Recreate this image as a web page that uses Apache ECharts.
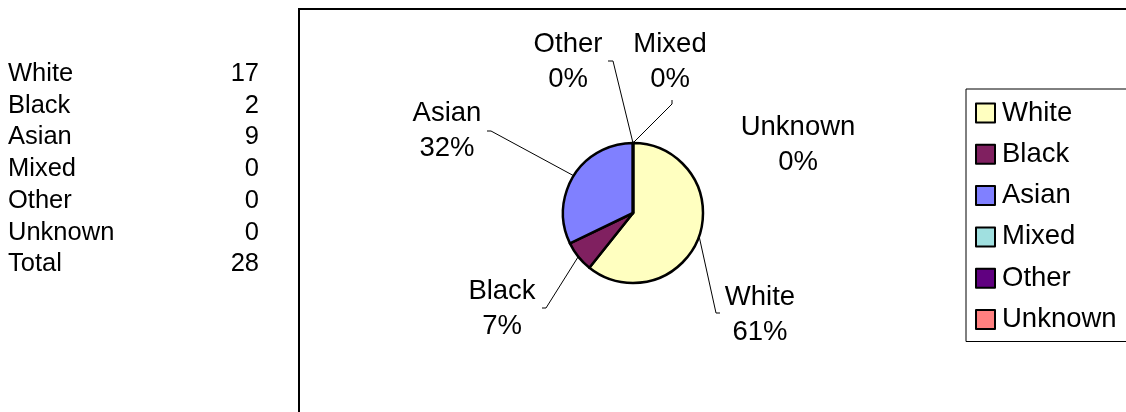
<!DOCTYPE html>
<html>
<head>
<meta charset="utf-8">
<script src="https://cdn.jsdelivr.net/npm/echarts@6/dist/echarts.min.js"></script>
<style>
html,body{margin:0;padding:0;background:#fff;}
#chart{width:1126px;height:412px;}
</style>
</head>
<body>
<div id="chart"></div>
<script>
// ---- data ----
var categories = ['White', 'Black', 'Asian', 'Mixed', 'Other', 'Unknown'];
var counts = [17, 2, 9, 0, 0, 0];
var totalLabel = 'Total';
var colors = ['#FFFFC0', '#802060', '#8080FF', '#A0E0E0', '#600080', '#FF8080'];

// ---- layout / style (label placement, not data) ----
var FONT = 'Liberation Sans, Arial, sans-serif';
// [labelCenterX, labelCenterY, bendX, bendY, endX, endY]
var labelPlace = {
  White:   [760, 315, 716, 313, 720, 313],
  Black:   [502, 309, 546, 308, 542, 308],
  Asian:   [447, 131, 491, 131, 487, 131],
  Mixed:   [670, 62, 672, 104, 672, 100],
  Other:   [568, 62, 613, 61, 608, 61],
  Unknown: [798, 145, null, null, null, null]
};

var total = counts.reduce(function (a, b) { return a + b; }, 0);

var chart = echarts.init(document.getElementById('chart'), null, {renderer: 'canvas'});

// left table
var tableGraphics = [];
var rowNames = categories.concat([totalLabel]);
var rowVals = counts.concat([total]);
rowNames.forEach(function (n, i) {
  var y = 74 + i * 31.7;
  tableGraphics.push({
    type: 'text', left: 8, top: y - 13, silent: true,
    style: {text: n, font: '25.5px ' + FONT, fill: '#000'}
  });
  tableGraphics.push({
    type: 'text', right: 1126 - 259, top: y - 13, silent: true,
    style: {text: String(rowVals[i]), font: '25.5px ' + FONT, fill: '#000', textAlign: 'right'}
  });
});

// chart area frame
tableGraphics.push({
  type: 'rect', silent: true, z: -1,
  shape: {x: 299, y: 9, width: 900, height: 500},
  style: {fill: '#fff', stroke: '#000', lineWidth: 2}
});

var option = {
  animation: false,
  backgroundColor: '#fff',
  textStyle: {fontFamily: FONT},
  graphic: tableGraphics,
  legend: {
    orient: 'vertical',
    left: 966, top: 89,
    padding: [10, 40, 8, 9],
    itemGap: 13.3,
    itemWidth: 19, itemHeight: 19,
    icon: 'rect',
    borderColor: '#000', borderWidth: 1,
    backgroundColor: '#fff',
    itemStyle: {borderColor: '#000', borderWidth: 2},
    textStyle: {fontSize: 27.5, color: '#000', fontFamily: FONT, padding: [0, 0, 0, 2]},
    data: categories
  },
  series: [{
    type: 'pie',
    center: [633, 213],
    radius: 70,
    startAngle: 90,
    clockwise: true,
    percentPrecision: 0,
    avoidLabelOverlap: false,
    itemStyle: {borderColor: '#000', borderWidth: 2.5},
    emphasis: {disabled: true},
    label: {
      show: true,
      position: 'outside',
      formatter: '{b}\n{d}%',
      fontSize: 27.5, lineHeight: 35, color: '#000', fontFamily: FONT,
      align: 'center'
    },
    labelLine: {show: true, length: 20, length2: 10, lineStyle: {color: '#000', width: 1}},
    labelLayout: function (p) {
      var name = categories[p.dataIndex];
      var pl = labelPlace[name];
      var res = {x: pl[0], y: pl[1], align: 'center', verticalAlign: 'middle'};
      if (pl[2] != null && p.labelLinePoints) {
        var s = p.labelLinePoints[0];
        res.labelLinePoints = [[s[0], s[1]], [pl[2], pl[3]], [pl[4], pl[5]]];
      }
      return res;
    },
    data: categories.map(function (c, i) {
      var d = {name: c, value: counts[i], itemStyle: {color: colors[i]}};
      if (c === 'Unknown') d.labelLine = {show: false};
      return d;
    })
  }]
};
chart.setOption(option);
</script>
</body>
</html>
